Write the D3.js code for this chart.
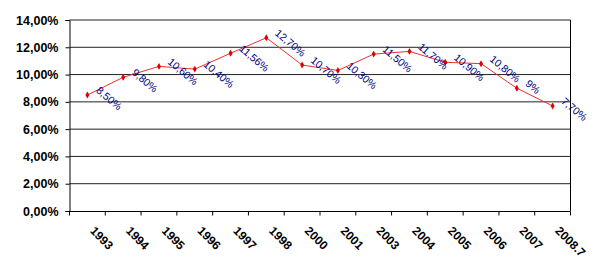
<!DOCTYPE html>
<html lang="en">
<head>
    <meta charset="UTF-8">
    <title>rate</title>
    <script src="https://d3js.org/d3.v7.min.js"></script>
    <style>
        html, body {
            padding: 0;
            margin: 0;
            background-color: white;
            font-family: Arial, "Liberation Sans", sans-serif;
        }
    </style>
</head>
<body>
<script>
    // категории и значения
    const years = ["1993", "1994", "1995", "1996", "1997", "1998", "2000", "2001",
        "2003", "2004", "2005", "2006", "2007", "2008.7"];
    const values = [8.5, 9.8, 10.6, 10.4, 11.56, 12.7, 10.7, 10.3, 11.5, 11.7, 10.9, 10.8, 9, 7.7];
    const valueLabels = ["8,50%", "9,80%", "10,60%", "10,40%", "11,56%", "12,70%", "10,70%",
        "10,30%", "11,50%", "11,70%", "10,90%", "10,80%", "9%", "7,70%"];
    const yTicks = [0, 2, 4, 6, 8, 10, 12, 14];
    const yTickLabels = ["0,00%", "2,00%", "4,00%", "6,00%", "8,00%", "10,00%", "12,00%", "14,00%"];

    const width = 606, height = 275;
    const plotLeft = 69.5, plotRight = 570.5, plotTop = 20, plotBottom = 211;

    const svg = d3.select("body").append("svg")
        .attr("width", width)
        .attr("height", height);

    const x = d3.scaleBand().domain(years).range([plotLeft, plotRight]);
    const y = d3.scaleLinear().domain([0, 14]).range([plotBottom, plotTop]);

    // сетка
    svg.append("g")
        .selectAll("line")
        .data(yTicks.slice(1))
        .join("line")
        .attr("x1", plotLeft).attr("x2", plotRight)
        .attr("y1", d => y(d)).attr("y2", d => y(d))
        .attr("stroke", "#222")
        .attr("stroke-width", 1);

    // правая граница
    svg.append("line")
        .attr("x1", plotRight).attr("x2", plotRight)
        .attr("y1", y(14)).attr("y2", y(0))
        .attr("stroke", "#000");

    // ось Y
    const yAxis = svg.append("g")
        .attr("transform", `translate(${plotLeft},0)`)
        .call(d3.axisLeft(y).tickValues(yTicks)
            .tickFormat((d, i) => yTickLabels[i])
            .tickSize(4).tickPadding(7));
    yAxis.select(".domain").attr("stroke", "#000");
    yAxis.selectAll("text")
        .style("font", "bold 12.5px Arial, 'Liberation Sans', sans-serif")
        .attr("fill", "#000");

    // ось X
    const xAxis = svg.append("g")
        .attr("transform", `translate(0,${plotBottom + 0.5})`);
    xAxis.append("line")
        .attr("x1", plotLeft).attr("x2", plotRight)
        .attr("stroke", "#000");
    xAxis.selectAll("line.tick")
        .data(years.concat(["end"]))
        .join("line")
        .attr("class", "tick")
        .attr("x1", (d, i) => i < years.length ? x(d) : plotRight)
        .attr("x2", (d, i) => i < years.length ? x(d) : plotRight)
        .attr("y1", 0).attr("y2", 4)
        .attr("stroke", "#000");
    xAxis.selectAll("text")
        .data(years)
        .join("text")
        .attr("transform", d => `translate(${x(d) + x.bandwidth() / 2 + 2},${20}) rotate(45)`)
        .style("font", "bold 12px Arial, 'Liberation Sans', sans-serif")
        .attr("fill", "#000")
        .text(d => d);

    // линия
    const cx = d => x(d) + x.bandwidth() / 2;
    const line = d3.line()
        .x((d, i) => cx(years[i]))
        .y(d => y(d));

    svg.append("path")
        .datum(values)
        .attr("d", line)
        .attr("fill", "none")
        .attr("stroke", "#f03030")
        .attr("stroke-width", 1);

    svg.append("g")
        .selectAll("path")
        .data(values)
        .join("path")
        .attr("d", d3.symbol(d3.symbolDiamond, 14))
        .attr("transform", (d, i) => `translate(${cx(years[i])},${y(d)})`)
        .attr("fill", "#e00000");

    // подписи значений
    svg.append("g")
        .selectAll("text")
        .data(values)
        .join("text")
        .attr("transform", (d, i) => `translate(${cx(years[i]) + 8},${y(d) - 3.5}) rotate(40)`)
        .style("font", "10.5px Arial, 'Liberation Sans', sans-serif")
        .attr("fill", "#000080")
        .text((d, i) => valueLabels[i]);
</script>
</body>
</html>
